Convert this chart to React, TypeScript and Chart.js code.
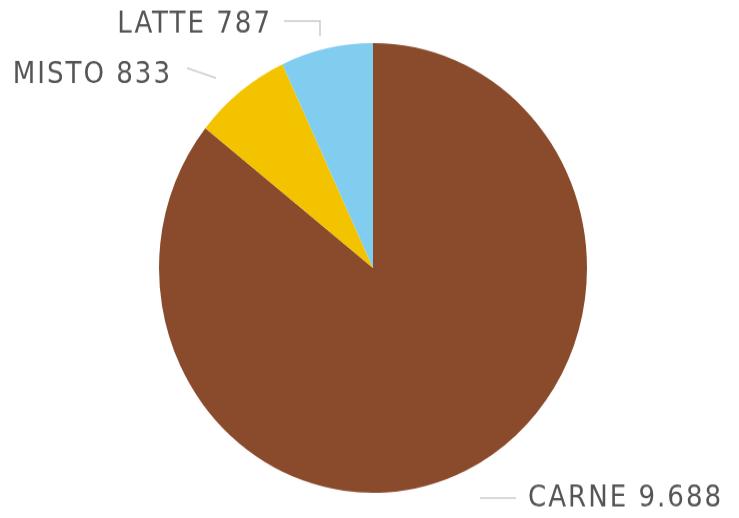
import React, { useEffect, useRef } from "react";
import { Chart, registerables } from "chart.js";

Chart.register(...registerables);

const categories = ["CARNE", "MISTO", "LATTE"];
const values = [9688, 833, 787];
const valueLabels = ["9.688", "833", "787"];
const colors = ["#8a4a2c", "#f4c300", "#80cdef"];

// canvas is drawn at a reduced internal height and stretched vertically by CSS
const W = 739;
const H_CSS = 518;
const H_INT = 493;
const sy = H_INT / H_CSS;

// label placement in page coordinates
const labelLayout: Record<string, { tx: number; ty: number; align: CanvasTextAlign; line: number[] }> = {
  CARNE: { tx: 528, ty: 499, align: "left", line: [480, 498, 516, 498] },
  MISTO: { tx: 172, ty: 75, align: "right", line: [187, 68, 216, 78] },
  LATTE: { tx: 272, ty: 25, align: "right", line: [284, 21, 318, 21, 320, 21, 320, 36] },
};

const labelPlugin = {
  id: "leaderLabels",
  afterDatasetsDraw(chart: any) {
    const ctx = chart.ctx as CanvasRenderingContext2D;
    const meta = chart.getDatasetMeta(0);
    meta.data.forEach((_arc: any, i: number) => {
      const name = chart.data.labels[i];
      const lay = labelLayout[name];
      if (!lay) return;
      ctx.save();
      ctx.strokeStyle = "#cccccc";
      ctx.lineWidth = 1.5;
      ctx.beginPath();
      const l = lay.line;
      ctx.moveTo(l[0], l[1] * sy);
      for (let k = 2; k < l.length; k += 2) ctx.lineTo(l[k], l[k + 1] * sy);
      ctx.stroke();
      ctx.fillStyle = "#555555";
      ctx.font = "29px 'DejaVu Sans Condensed'";
      (ctx as any).letterSpacing = "2px";
      ctx.textAlign = lay.align;
      ctx.textBaseline = "middle";
      ctx.fillText(`${name} ${valueLabels[i]}`, lay.tx, lay.ty * sy);
      ctx.restore();
    });
  },
};

export default function App() {
  const ref = useRef<HTMLCanvasElement | null>(null);
  useEffect(() => {
    document.body.style.margin = "0";
    const chart = new Chart(ref.current!, {
      type: "pie",
      data: {
        labels: categories,
        datasets: [
          {
            data: values,
            backgroundColor: colors,
            borderWidth: 0,
          },
        ],
      },
      options: {
        responsive: false,
        animation: false,
        layout: { padding: { left: 159, right: 152, top: 41, bottom: 24 } },
        plugins: { legend: { display: false }, tooltip: { enabled: false } },
      },
      plugins: [labelPlugin],
    });
    return () => chart.destroy();
  }, []);
  return (
    <div style={{ position: "fixed", left: 0, top: 0, width: W, height: H_CSS, background: "#fff" }}>
      <canvas
        ref={ref}
        width={W}
        height={H_INT}
        style={{ display: "block", width: W, height: H_CSS }}
      />
    </div>
  );
}
